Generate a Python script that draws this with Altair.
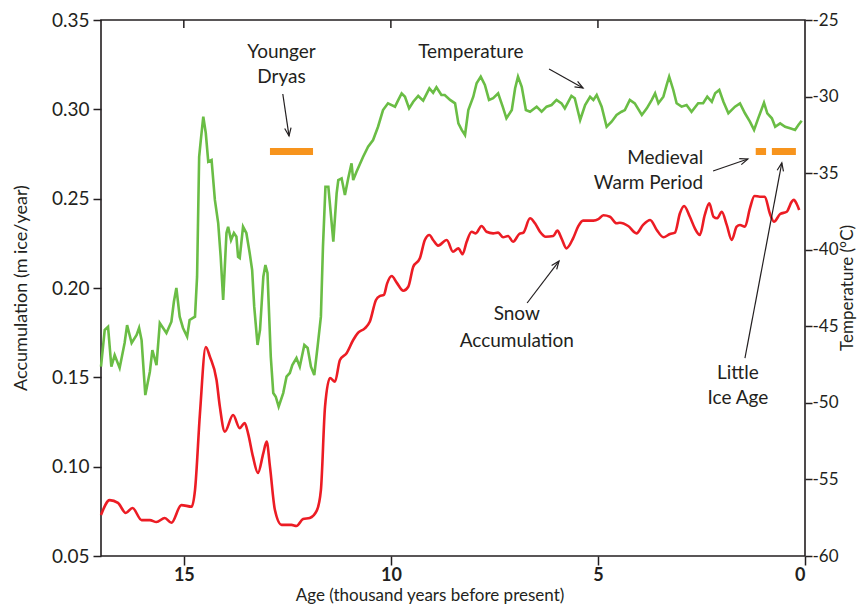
import altair as alt
import pandas as pd

# ---------------- data ----------------
temp_age = [17.0,16.91,16.83,16.75,16.67,16.55,16.43,16.37,16.26,16.14,
            16.08,16.02,15.93,15.82,15.76,15.66,15.58,15.42,15.30,15.24,
            15.18,15.10,15.02,14.92,14.86,14.73,14.68,14.63,14.59,14.53,
            14.47,14.41,14.33,14.25,14.17,14.11,14.05,13.97,13.93,13.86,
            13.79,13.73,13.69,13.65,13.57,13.49,13.41,13.35,13.30,13.22,
            13.16,13.08,13.03,12.98,12.90,12.84,12.78,12.71,12.60,12.52,
            12.44,12.38,12.28,12.20,12.09,12.01,11.93,11.85,11.77,11.69,
            11.64,11.58,11.51,11.43,11.39,11.31,11.27,11.19,11.11,11.03,
            10.95,10.91,10.83,10.67,10.55,10.43,10.31,10.19,10.07,9.90,
            9.82,9.74,9.66,9.56,9.46,9.34,9.22,9.07,8.98,8.90,
            8.78,8.70,8.57,8.45,8.37,8.29,8.21,8.13,8.01,7.93,
            7.83,7.73,7.63,7.53,7.41,7.30,7.21,7.08,7.00,6.93,
            6.84,6.74,6.64,6.48,6.36,6.24,6.12,6.00,5.88,5.80,
            5.64,5.56,5.43,5.31,5.19,5.11,5.03,4.91,4.79,4.67,
            4.55,4.43,4.35,4.23,4.11,3.94,3.82,3.70,3.62,3.54,
            3.42,3.34,3.28,3.18,3.10,2.98,2.86,2.74,2.58,2.46,
            2.36,2.25,2.17,2.07,1.97,1.85,1.69,1.57,1.45,1.33,
            1.23,1.13,0.99,0.91,0.80,0.72,0.60,0.48,0.36,0.24,
            0.16,0.08]
temp_val = [-47.64,-45.24,-45.03,-47.64,-46.88,-47.72,-46.09,-44.92,-46.09,-45.57,
            -45.11,-45.90,-49.49,-47.97,-46.55,-47.53,-44.79,-45.44,-44.70,-43.40,
            -42.50,-44.37,-45.11,-45.68,-44.59,-44.37,-41.76,-33.93,-32.84,-31.31,
            -32.38,-34.25,-34.14,-36.75,-38.26,-40.46,-43.28,-38.91,-38.50,-39.37,
            -38.91,-39.15,-40.46,-40.54,-38.50,-38.91,-40.21,-41.33,-43.72,-46.22,
            -45.24,-41.76,-41.00,-41.52,-46.99,-49.36,-49.60,-50.25,-49.36,-48.29,
            -48.05,-47.53,-47.07,-47.64,-46.22,-46.42,-47.64,-48.18,-46.33,-44.37,
            -39.80,-35.89,-35.89,-38.26,-39.48,-36.32,-35.45,-35.34,-36.43,-35.34,
            -34.36,-35.45,-34.91,-33.93,-33.27,-32.84,-31.97,-30.88,-30.44,-30.66,
            -30.22,-29.79,-30.01,-30.77,-30.34,-29.96,-30.27,-29.46,-29.75,-29.39,
            -29.90,-29.90,-30.22,-30.44,-31.75,-32.18,-32.51,-30.88,-30.01,-29.13,
            -28.70,-29.24,-30.22,-30.11,-29.79,-30.66,-31.42,-30.88,-29.46,-28.70,
            -29.36,-30.88,-30.99,-30.66,-30.99,-30.66,-30.55,-30.22,-30.44,-30.77,
            -29.96,-30.11,-31.53,-30.55,-30.01,-30.22,-29.90,-30.66,-31.97,-31.64,
            -31.20,-30.99,-30.88,-30.22,-30.44,-31.20,-30.77,-30.22,-29.79,-30.44,
            -30.01,-29.24,-28.70,-29.57,-30.44,-30.66,-30.55,-30.99,-30.44,-30.44,
            -30.01,-30.34,-29.79,-29.57,-30.34,-31.09,-30.66,-30.44,-31.09,-31.64,
            -32.18,-31.42,-30.40,-31.09,-31.42,-31.97,-31.75,-31.97,-32.07,-32.18,
            -31.86,-31.58]

acc_age = [17.0,16.79,16.59,16.40,16.24,16.02,15.82,15.66,15.46,15.30,
           15.06,14.81,14.73,14.61,14.47,14.37,14.21,14.13,14.01,13.81,
           13.65,13.53,13.45,13.33,13.21,13.08,13.00,12.92,12.80,12.64,
           12.40,12.28,12.12,11.96,11.79,11.69,11.59,11.47,11.35,11.23,
           11.07,10.91,10.79,10.63,10.51,10.36,10.27,10.17,10.09,9.98,
           9.86,9.70,9.58,9.46,9.30,9.18,9.07,8.98,8.86,8.65,
           8.50,8.37,8.27,8.17,8.05,7.95,7.81,7.69,7.53,7.41,
           7.29,7.17,7.05,6.90,6.80,6.64,6.52,6.40,6.26,6.08,
           5.98,5.88,5.76,5.60,5.48,5.36,5.11,4.99,4.87,4.71,
           4.55,4.47,4.27,4.07,3.91,3.74,3.58,3.42,3.26,3.14,
           3.02,2.92,2.78,2.66,2.54,2.42,2.31,2.21,2.12,2.01,
           1.89,1.77,1.65,1.57,1.45,1.33,1.22,1.09,0.97,0.85,
           0.75,0.60,0.44,0.32,0.27,0.20,0.14]
acc_val = [0.0729,0.0813,0.0797,0.0741,0.0769,0.0701,0.0701,0.0690,0.0713,0.0686,
           0.0785,0.0776,0.0869,0.1300,0.1670,0.1615,0.1485,0.1336,0.1196,0.1289,
           0.1216,0.1244,0.1188,0.1056,0.0965,0.1076,0.1140,0.1000,0.0757,0.0674,
           0.0674,0.0668,0.0707,0.0713,0.0754,0.0869,0.1336,0.1496,0.1476,0.1597,
           0.1635,0.1709,0.1750,0.1774,0.1811,0.1933,0.1955,0.1961,0.2026,0.2067,
           0.2030,0.1985,0.2007,0.2119,0.2166,0.2269,0.2297,0.2269,0.2237,0.2269,
           0.2203,0.2222,0.2189,0.2259,0.2315,0.2306,0.2347,0.2315,0.2306,0.2310,
           0.2284,0.2291,0.2259,0.2302,0.2310,0.2390,0.2362,0.2315,0.2287,0.2291,
           0.2321,0.2278,0.2222,0.2278,0.2343,0.2377,0.2377,0.2385,0.2407,0.2399,
           0.2362,0.2365,0.2347,0.2306,0.2353,0.2381,0.2325,0.2284,0.2302,0.2310,
           0.2418,0.2459,0.2399,0.2334,0.2297,0.2409,0.2474,0.2399,0.2390,0.2427,
           0.2353,0.2269,0.2343,0.2353,0.2343,0.2446,0.2515,0.2511,0.2511,0.2418,
           0.2371,0.2414,0.2427,0.2483,0.2493,0.2470,0.2437]

# climate periods (orange bars)
period_name = ["Younger Dryas", "Medieval Warm Period", "Little Ice Age"]
period_start = [12.92, 1.19, 0.80]
period_end = [11.88, 0.94, 0.22]
period_level = [0.2764, 0.2764, 0.2764]

# annotation text
label_text = ["Younger", "Dryas", "Temperature", "Little", "Ice Age", "Snow", "Accumulation"]
label_age = [12.64, 12.64, 8.07, 1.62, 1.62, 6.96, 6.96]
label_acc = [0.3321, 0.3181, 0.3321, 0.1526, 0.1384, 0.1854, 0.1705]
rlabel_text = ["Medieval", "Warm Period"]
rlabel_age = [2.46, 2.46]
rlabel_acc = [0.2728, 0.2588]

# annotation arrows
arrow_age0 = [12.61, 6.18, 2.22, 1.45, 6.71]
arrow_acc0 = [0.3086, 0.3226, 0.2655, 0.1608, 0.1916]
arrow_age1 = [12.46, 5.36, 1.38, 0.56, 5.94]
arrow_acc1 = [0.2851, 0.3119, 0.2722, 0.2700, 0.2151]
arrow_angle = [171.9, 119.2, 71.1, 10.7, 37.3]

top_ticks = [15, 10, 5]
x_ticks = [15, 10, 5, 0]
left_ticks = [0.05, 0.10, 0.15, 0.20, 0.25, 0.30, 0.35]
right_ticks = [-60, -55, -50, -45, -40, -35, -30, -25]

x_title = "Age (thousand years before present)"
yl_title = "Accumulation (m ice/year)"
yr_title = "Temperature (°C)"

# ---------------- styling ----------------
AX = "#231f20"
FONT = "Lato"
GREEN = "#6abd45"
RED = "#ec1c24"
ORANGE = "#f7941d"

temp_df = pd.DataFrame({"age": temp_age, "temp": temp_val})
acc_df = pd.DataFrame({"age": acc_age, "acc": acc_val})
per_df = pd.DataFrame({"name": period_name, "start": period_start, "end": period_end, "level": period_level})
lab_df = pd.DataFrame({"label": label_text, "age": label_age, "acc": label_acc})
rlab_df = pd.DataFrame({"label": rlabel_text, "age": rlabel_age, "acc": rlabel_acc})
arr_df = pd.DataFrame({"a0": arrow_age0, "c0": arrow_acc0, "a1": arrow_age1, "c1": arrow_acc1, "ang": arrow_angle})
tt_df = pd.DataFrame({"t": top_ticks})

xscale = alt.Scale(domain=[0, 17], reverse=True, nice=False, zero=False)
yl_scale = alt.Scale(domain=[0.05, 0.35], nice=False, zero=False)
yr_scale = alt.Scale(domain=[-60, -25], nice=False, zero=False)

x_axis = alt.Axis(title=None, values=x_ticks, format="d",
                  tickSize=9, tickWidth=1.5, tickColor=AX, domain=False, grid=False,
                  labelFont=FONT, labelFontSize=18, labelFontWeight="bold", labelColor=AX,
                  labelPadding=1)
yl_axis = alt.Axis(title=None, values=left_ticks, format=".2f",
                   tickSize=8, tickWidth=1.5, tickColor=AX, domain=False, grid=False,
                   labelFont=FONT, labelFontSize=19, labelColor=AX, labelPadding=4)
yr_axis = alt.Axis(orient="right", title=None, values=right_ticks, format="d",
                   labelExpr="datum.value < 0 ? '-' + abs(datum.value) : '' + datum.value",
                   tickSize=7, tickWidth=1.5, tickColor=AX, domain=False, grid=False,
                   labelFont=FONT, labelFontSize=17, labelColor=AX, labelPadding=0)


def X(field):
    return alt.X(field, type="quantitative", scale=xscale, axis=x_axis)


def YL(field):
    return alt.Y(field, type="quantitative", scale=yl_scale, axis=yl_axis)


bars = alt.Chart(per_df).mark_rule(color=ORANGE, strokeWidth=7, strokeCap="butt").encode(
    x=X("start"), x2="end", y=YL("level"))

red = alt.Chart(acc_df).mark_line(color=RED, strokeWidth=2.6, interpolate="monotone").encode(
    x=X("age"), y=YL("acc"))

arrow_lines = alt.Chart(arr_df).mark_rule(color=AX, strokeWidth=1.2).encode(
    x=X("a0"), x2="a1", y=YL("c0"), y2="c1")

arrow_heads = alt.Chart(arr_df).mark_point(
    shape="M-0.4,1L0,0L0.4,1", filled=False, size=256, strokeWidth=1.2, color=AX, opacity=1
).encode(x=X("a1"), y=YL("c1"), angle=alt.Angle("ang:Q", scale=None))

text_c = alt.Chart(lab_df).mark_text(font=FONT, fontSize=19, color=AX, align="center",
                                     baseline="middle").encode(x=X("age"), y=YL("acc"), text="label:N")
text_r = alt.Chart(rlab_df).mark_text(font=FONT, fontSize=19, color=AX, align="right",
                                      baseline="middle").encode(x=X("age"), y=YL("acc"), text="label:N")

top = alt.Chart(tt_df).mark_rule(color=AX, strokeWidth=1.5).encode(
    x=X("t"), y=alt.value(0), y2=alt.value(8))

# axis titles as text marks (the reference's x title is not centred on the plot)
title_df = pd.DataFrame({"xt": [x_title], "ylt": [yl_title], "yrt": [yr_title]})
t_x = alt.Chart(title_df).mark_text(font=FONT, fontSize=17, color=AX, align="center",
                                    baseline="middle").encode(
    text="xt:N", x=alt.value(329), y=alt.value(576))
t_yl = alt.Chart(title_df).mark_text(font=FONT, fontSize=18, color=AX, align="center",
                                     baseline="middle", angle=270).encode(
    text="ylt:N", x=alt.value(-79), y=alt.value(268))
t_yr = alt.Chart(title_df).mark_text(font=FONT, fontSize=17, color=AX, align="center",
                                     baseline="middle", angle=270).encode(
    text="yrt:N", x=alt.value(747), y=alt.value(268))

left = alt.layer(bars, red, arrow_lines, arrow_heads, text_c, text_r, top, t_x, t_yl, t_yr)

green = alt.Chart(temp_df).mark_line(color=GREEN, strokeWidth=2.6).encode(
    x=X("age"), y=alt.Y("temp:Q", scale=yr_scale, axis=yr_axis))

chart = alt.layer(left, green).resolve_scale(y="independent").properties(
    width=704, height=536,
    padding={"left": 93, "top": 12, "right": 52, "bottom": 51},
    autosize=alt.AutoSizeParams(type="none"),
).configure_view(stroke=AX, strokeWidth=1.6)

chart.save("out.html", embed_options={"renderer": "svg", "actions": False})
